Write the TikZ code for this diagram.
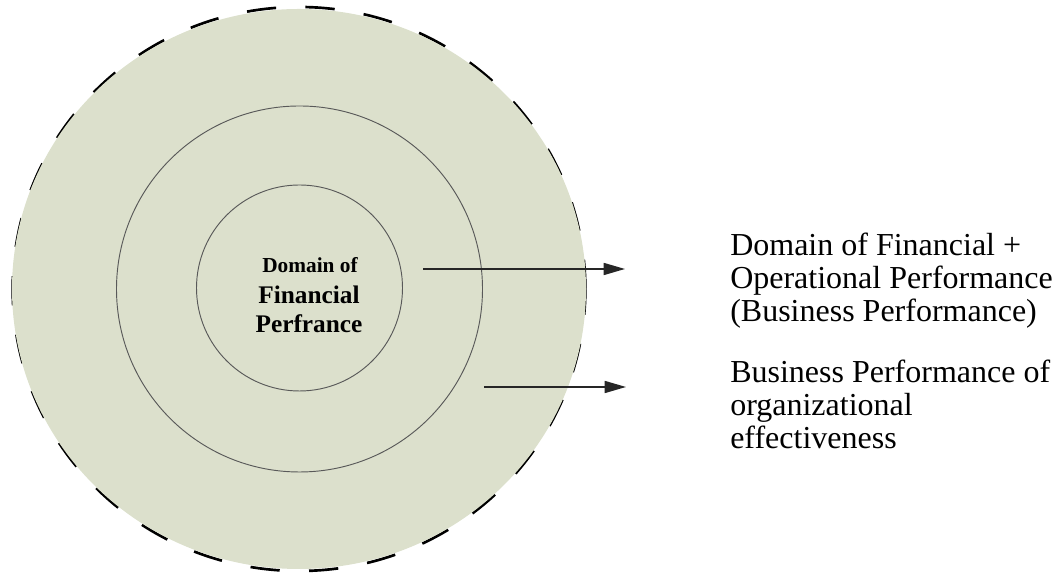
\documentclass[tikz,border=0pt]{standalone}
\usepackage{fontspec}
\setmainfont{Liberation Serif}
\usetikzlibrary{shapes.geometric,arrows.meta,positioning}
\definecolor{ringfill}{RGB}{220,224,204}

\begin{document}
\begin{tikzpicture}[x=0.75pt,y=0.75pt,
    ring/.style={circle, draw=black!65, line width=0.7pt, inner sep=0pt},
    core/.style={anchor=base, inner sep=0pt, font=\bfseries\fontsize{19}{22}\selectfont},
    pointer/.style={-{Triangle[length=16pt,width=9pt]}, draw=black!85, line width=1.2pt},
    sidetext/.style={anchor=base west, inner sep=0pt, align=left, font=\fontsize{24}{25}\selectfont}]
    \useasboundingbox (0,0) rectangle (1061,573);

    % Outer ring
    \node[ellipse, draw=black, line width=2pt, dash pattern=on 22pt off 22pt,
          minimum width=429.5pt, minimum height=423pt, inner sep=0pt] (rim) at (299,284) {};
    \node[ellipse, fill=ringfill, minimum width=430.5pt, minimum height=420pt, inner sep=0pt] (outer) at (299,284) {};

    % Inner rings
    \node[ring, minimum size=274.5pt] (middle) at (299.5,284) {};
    \node[ring, minimum size=154.5pt] (inner) at (299.5,285) {};
    \node[core, font=\bfseries\fontsize{16}{19}\selectfont] (core1) at (310,300) {Domain of};
    \node[core] (core2) at (309,269) {Financial};
    \node[core] (core3) at (309,240) {Perfrance};

    % Pointers
    \coordinate (start1) at (423,304);
    \coordinate (tip1) at (625,304);
    \coordinate (start2) at (484,186);
    \coordinate (tip2) at (626,186);
    \draw[pointer] (start1) -- (tip1);
    \draw[pointer] (start2) -- (tip2);

    % Descriptions
    \node[sidetext] (business) at (730,251) {Domain of Financial +\\ Operational Performance\\ (Business Performance)};
    \node[sidetext] (effect) at (730,124) {Business Performance of\\ organizational\\ effectiveness};
\end{tikzpicture}
\end{document}
